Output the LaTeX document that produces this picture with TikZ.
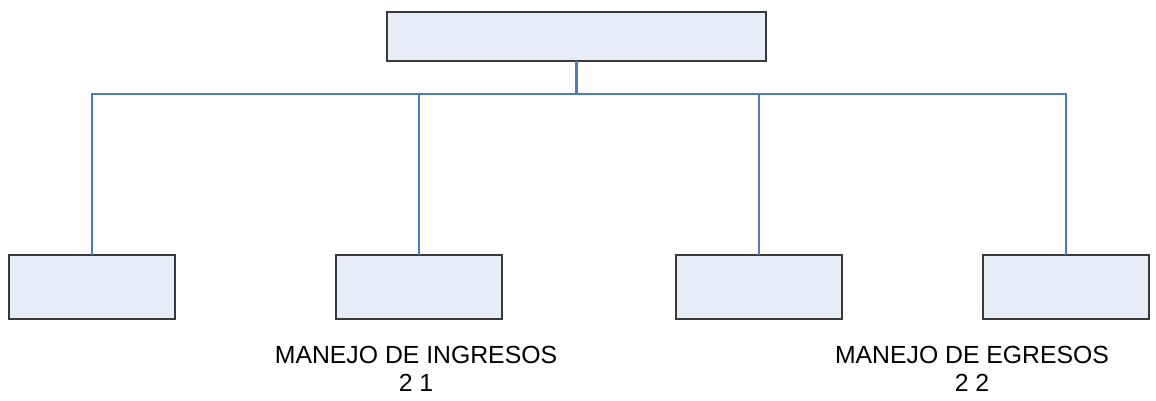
\documentclass[tikz,border=0pt]{standalone}
\usepackage{fontspec}
\setmainfont{Liberation Sans}
\usetikzlibrary{positioning}
\definecolor{boxF}{HTML}{E6EDF7}
\definecolor{boxD}{HTML}{3A3A3A}
\definecolor{lnk}{HTML}{4A7CC6}
\tikzset{
  unit/.style={draw=boxD, fill=boxF, line width=0.85pt, inner sep=0pt, outer sep=0pt,
    minimum width=3.32cm, minimum height=1.28cm},
  head/.style={unit, minimum width=7.58cm, minimum height=0.98cm},
  link/.style={lnk, line width=1pt},
  lbl/.style={font=\fontsize{14.1}{15.9}\selectfont, align=center, inner sep=0pt, anchor=north},
}
\begin{document}
\begin{tikzpicture}[x=0.02cm,y=-0.02cm]
\useasboundingbox (0,0) rectangle (1156,401);

% ===================== boxes =====================
\node[head] (root) at (576.5,36.5) {};
\node[unit] (b1) at (92,287) {};
\node[unit] (b2) at (419,287) {};
\node[unit] (b3) at (759,287) {};
\node[unit] (b4) at (1066,287) {};

% ===================== connectors =====================
\coordinate (bus) at (576.5,94);
\draw[link, line width=1.6pt] (root.south) -- (bus);
\foreach \b in {b1,b2,b3,b4}{
  \draw[link] (bus) -| (\b.north);}

% ===================== captions =====================
\node[lbl] (ing) at (416,346) {MANEJO DE INGRESOS\\2 1};
\node[lbl] (egr) at (972,346) {MANEJO DE EGRESOS\\2 2};

\end{tikzpicture}
\end{document}
